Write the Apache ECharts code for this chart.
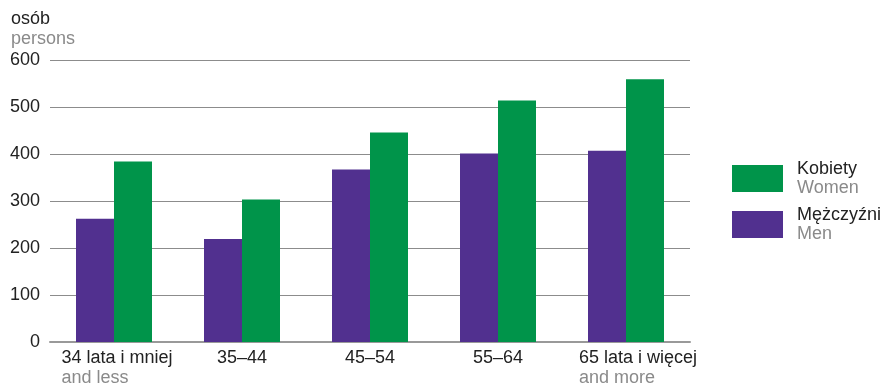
<!DOCTYPE html>
<html><head><meta charset="utf-8">
<script src="https://cdn.jsdelivr.net/npm/echarts@6/dist/echarts.min.js"></script>
<style>html,body{margin:0;padding:0;background:#fff}#c{width:886px;height:387px}</style>
</head><body><div id="c"></div>
<script>
const categories = ['34 lata i mniej', '35–44', '45–54', '55–64', '65 lata i więcej'];
const categoriesEn = ['and less', '', '', '', 'and more'];
const men = [262, 219, 367, 401, 407];
const women = [384, 303, 446, 514, 559];
const yTicks = [0, 100, 200, 300, 400, 500, 600];
const seriesNames = ['Mężczyźni', 'Kobiety'];
const seriesNamesEn = ['Men', 'Women'];

const FONT = '"Liberation Sans", Arial, sans-serif';
const FS = 18;
const labelShift = [6, 0, 0, 0, 24];
const rich = {};
categories.forEach((c, i) => {
  rich['a' + i] = {color: '#222', fontSize: FS, fontFamily: FONT, align: 'left', lineHeight: 20, padding: [0, 0, 0, labelShift[i]]};
  rich['b' + i] = {color: '#8a8a8a', fontSize: FS, fontFamily: FONT, align: 'left', lineHeight: 20, padding: [0, 0, 0, labelShift[i]]};
});

const chart = echarts.init(document.getElementById('c'), null, {renderer: 'canvas'});
chart.setOption({
  animation: false,
  backgroundColor: '#fff',
  title: {
    text: 'osób', subtext: 'persons', left: 6, top: 5, itemGap: 2,
    textStyle: {fontSize: FS, fontWeight: 'normal', color: '#222', fontFamily: FONT},
    subtextStyle: {fontSize: FS, color: '#8a8a8a', fontFamily: FONT}
  },
  grid: {left: 50, right: 196, top: 60, bottom: 45, containLabel: false},
  legend: {
    orient: 'vertical', left: 727, top: 155, itemWidth: 51, itemHeight: 27, itemGap: 9,
    data: [seriesNames[1], seriesNames[0]],
    icon: 'rect',
    formatter: function (name) {
      const i = seriesNames.indexOf(name);
      return '{a|' + name + '}\n{b|' + seriesNamesEn[i] + '}';
    },
    textStyle: {
      rich: {
        a: {color: '#222', fontSize: FS, fontFamily: FONT, lineHeight: 19, padding: [0, 0, 0, 9]},
        b: {color: '#8a8a8a', fontSize: FS, fontFamily: FONT, lineHeight: 19, padding: [0, 0, 0, 9]}
      }
    }
  },
  xAxis: {
    type: 'category', data: categories,
    axisLine: {lineStyle: {color: '#999', width: 2}},
    axisTick: {show: false},
    axisLabel: {
      margin: 6, interval: 0,
      formatter: function (v, i) {
        let s = '{a' + i + '|' + v + '}';
        if (categoriesEn[i]) s += '\n{b' + i + '|' + categoriesEn[i] + '}';
        return s;
      },
      verticalAlign: 'top',
      rich: rich
    }
  },
  yAxis: {
    type: 'value', min: yTicks[0], max: yTicks[yTicks.length - 1], interval: 100,
    axisLine: {show: false}, axisTick: {show: false},
    axisLabel: {color: '#222', fontSize: FS, fontFamily: FONT, margin: 10},
    splitLine: {lineStyle: {color: '#8c8c8c', width: 1}}
  },
  series: [
    {name: seriesNames[0], type: 'bar', data: men, barWidth: 38, barGap: '0%', itemStyle: {color: '#51308f'}},
    {name: seriesNames[1], type: 'bar', data: women, barWidth: 38, barGap: '0%', itemStyle: {color: '#00944a'}}
  ]
});
</script></body></html>
